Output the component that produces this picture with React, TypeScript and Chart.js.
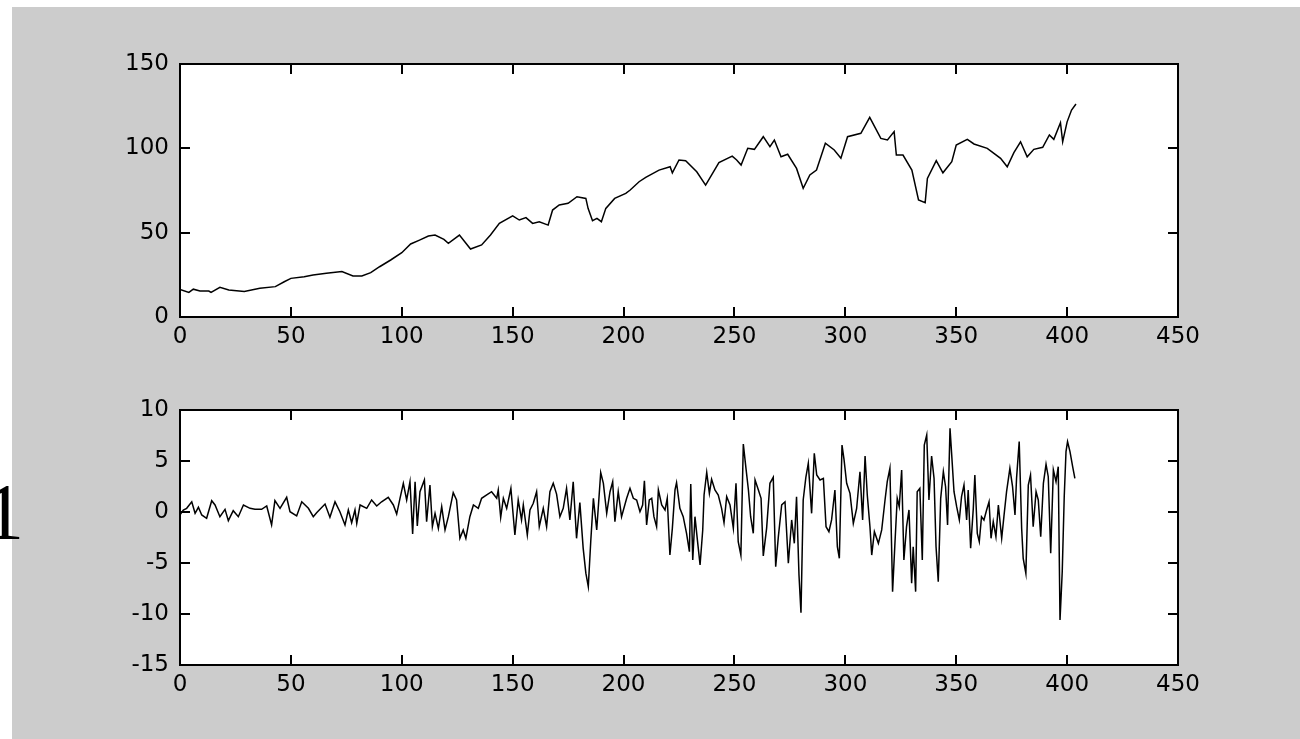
import React, { useEffect, useRef } from "react";
import { Chart, registerables } from "chart.js";

Chart.register(...registerables);

// ---- data ----
const xTicks = [0, 50, 100, 150, 200, 250, 300, 350, 400, 450];
const topYTicks = [0, 50, 100, 150];
const diffYTicks = [-15, -10, -5, 0, 5, 10];
const sideLabel = "1";

// top panel: level series (index, value)
const topIdx = [
  0, 4, 6, 9, 13, 14, 18, 22, 29, 36, 43, 47, 50, 56, 60, 66, 73, 78, 82, 86,
  90, 95, 100, 104, 108, 112, 115, 119, 121, 126, 131, 136, 140, 144, 150, 153, 156, 159, 162, 166,
  168, 171, 175, 179, 183, 184, 186, 188, 190, 192, 196, 201, 203, 207, 210, 216, 221, 222, 225, 228,
  233, 237, 243, 249, 251, 253, 256, 259, 263, 266, 268, 271, 274, 278, 281, 284, 287, 291, 295, 298,
  301, 307, 311, 316, 319, 322, 323, 326, 330, 333, 336, 337, 341, 344, 348, 350, 355, 358, 364, 370,
  373, 376, 379, 382, 385, 389, 392, 394, 397, 398, 400, 402, 404,
];
const topVal = [
  16.4, 14.6, 16.5, 15.4, 15.4, 14.6, 17.6, 16.0, 15.1, 17.1, 18.0, 20.9, 22.9, 23.9, 24.9, 25.9, 26.9, 24.3, 24.3, 26.3,
  29.8, 33.8, 38.1, 43.3, 45.6, 48.0, 48.6, 46.0, 43.7, 48.6, 40.3, 42.7, 48.6, 55.5, 59.9, 57.5, 58.9, 55.5, 56.5, 54.5,
  63.4, 66.4, 67.4, 71.3, 70.3, 64.4, 57.1, 58.5, 56.5, 64.4, 70.3, 73.3, 75.3, 80.2, 82.8, 87.1, 89.1, 85.5, 93.1, 92.7,
  86.1, 78.2, 91.5, 95.4, 93.1, 90.1, 100, 99.4, 106.9, 101, 104.9, 95, 96.5, 88.1, 76.3, 84.2, 87.1, 103, 99, 94.1,
  106.9, 108.9, 118.4, 105.9, 105, 109.9, 96, 96, 87.1, 69.4, 67.8, 82.2, 92.7, 85.5, 92.1, 102, 105.3, 102.6, 100, 94.1,
  89.1, 97.4, 103.9, 95, 99.4, 100.6, 107.9, 105.3, 115.2, 103.9, 115.7, 122.7, 126.3,
];

// bottom panel: differenced series (index, value)
const diffIdx = [
  0, 1.5, 3, 5.3, 6.8, 8.3, 9.8, 12, 14.3, 15.8, 18, 20.3, 21.8, 24, 26.3, 28.6, 31.6, 33.8, 36.8, 39.1,
  41.3, 42.8, 45.1, 48.1, 49.6, 52.6, 54.9, 57.9, 60.1, 61.6, 65.4, 67.6, 69.9, 72.1, 74.4, 75.9, 77.4, 78.9, 79.7, 81.2,
  84.2, 86.4, 88.7, 90.9, 93.9, 96.2, 97.7, 99.2, 100.7, 102.2, 103.7, 104.9, 106, 107, 108.2, 110.2, 111.2, 112.7, 113.8, 115,
  116.5, 118, 119.5, 121, 123.2, 124.7, 126.2, 127.7, 128.9, 130.7, 132.3, 134.5, 136, 138.3, 140.5, 142.8, 143.5, 144.6, 145.8, 147.3,
  149.2, 151, 152.5, 154, 154.8, 156.6, 157.8, 159.3, 160.8, 162, 163.8, 165.3, 166.8, 168.3, 169.8, 171.3, 172.8, 174.3, 175.8, 177.3,
  178.8, 180.3, 181.8, 183, 184.1, 185.2, 186.4, 187.9, 189.7, 190.9, 192.4, 193.9, 195.1, 196.1, 197.6, 199.1, 201.4, 202.9, 204.4, 205.9,
  207.4, 208.6, 209.4, 210.4, 211.6, 212.7, 213.7, 214.9, 215.7, 217.2, 218.7, 219.7, 220.9, 222, 223.2, 223.9, 225.4, 226.9, 228.4, 229.7,
  230.3, 231.2, 232.2, 233.3, 234.5, 235.7, 236.3, 237.5, 238.7, 239.7, 241.2, 242.7, 244.2, 245.3, 246.5, 248, 249.5, 250.7, 251.7, 252.9,
  254, 255.2, 256.3, 257.3, 258.5, 259.3, 260.8, 262, 263, 264.5, 266, 267.5, 268.6, 269.8, 271.3, 272.8, 274.3, 275.8, 277, 278,
  279.1, 280, 281, 282.2, 283.3, 284.8, 286, 287.1, 288.6, 290.1, 291.3, 292.6, 293.8, 295.3, 296.4, 297.3, 298.5, 299.4, 300.6, 302.1,
  303.6, 305.1, 306.6, 307.8, 308.9, 309.9, 311.1, 311.9, 313.1, 314.9, 316.4, 317.9, 318.9, 320.1, 321.3, 322.4, 323.4, 324.3, 325.4, 326.4,
  327.6, 328.7, 329.9, 330.6, 331.7, 332.4, 333.6, 334.7, 335.6, 336.7, 337.7, 338.9, 340, 340.9, 341.9, 343, 344.2, 345.2, 346.1, 347.2,
  347.9, 349, 350.2, 351.4, 352.4, 353.5, 354.7, 355.4, 356.5, 357.7, 358.4, 359.5, 360.4, 361.4, 362.5, 363.7, 364.8, 365.7, 366.7, 367.9,
  369, 370.5, 371.5, 372.7, 374.2, 375.4, 376.5, 377.2, 378.4, 379.5, 380.2, 381.4, 382.5, 383.5, 384.7, 386, 387, 388.1, 389.3, 390.5,
  391.5, 392.6, 393.8, 395, 396, 396.8, 397.8, 398.7, 399.5, 400.2, 401.3, 402.5, 403.5,
];
const diffVal = [
  -0.29, 0.2, 0.36, 1.0, -0.13, 0.46, -0.29, -0.62, 1.11, 0.69, -0.46, 0.26, -0.85, 0.13, -0.46, 0.69, 0.36, 0.26, 0.26, 0.59,
  -1.27, 1.11, 0.36, 1.44, 0.03, -0.39, 1.0, 0.36, -0.46, -0.07, 0.78, -0.52, 1.0, 0.03, -1.27, 0.2, -1.05, 0.2, -1.11, 0.69,
  0.36, 1.18, 0.59, 1.0, 1.44, 0.69, -0.2, 1.34, 2.81, 1.18, 2.97, -2.16, 2.97, -1.37, 1.99, 3.14, -0.95, 2.65, -1.44, -0.13,
  -1.6, 0.52, -1.76, -0.46, 1.9, 1.18, -2.58, -1.76, -2.58, -0.46, 0.69, 0.36, 1.34, 1.67, 1.99, 1.34, 2.16, -0.52, 1.34, 0.36,
  2.32, -2.25, 1.18, -0.78, 0.69, -2.25, 0.2, 0.85, 1.99, -1.44, 0.36, -1.44, 1.99, 2.81, 1.76, -0.46, 0.36, 2.32, -0.78, 2.97,
  -2.58, 0.92, -3.56, -6.0, -7.32, -2.91, 1.34, -1.76, 3.86, 2.81, -0.13, 1.99, 2.97, -0.95, 1.99, -0.46, 1.34, 2.32, 1.34, 1.18,
  0.03, 0.69, 3.07, -1.27, 1.18, 1.34, -0.46, -1.44, 2.16, 0.69, 0.2, 1.34, -4.22, -1.6, 2.16, 2.88, 0.36, -0.46, -2.09, -3.89,
  2.75, -4.71, -0.46, -2.75, -5.2, -1.76, 1.67, 3.89, 1.83, 3.2, 2.16, 1.67, 0.36, -1.05, 1.5, 0.69, -1.6, 2.81, -2.91, -4.22,
  6.67, 4.28, 2.16, -0.46, -2.09, 3.14, 2.16, 1.34, -4.31, -1.6, 2.81, 3.4, -5.36, -2.42, 0.69, 1.0, -5.03, -0.78, -3.07, 1.5,
  -6.18, -9.87, 1.18, 3.4, 4.77, -0.13, 5.75, 3.63, 3.14, 3.3, -1.44, -1.93, -0.78, 2.16, -3.4, -4.54, 6.57, 5.16, 2.81, 1.83,
  -1.11, 0.36, 3.95, -0.78, 5.49, 1.67, -1.44, -4.22, -1.93, -3.07, -1.76, 1.18, 2.97, 4.28, -7.81, -2.91, 1.34, 0.52, 4.12, -4.71,
  -1.44, 0.2, -6.99, -3.4, -7.81, 1.99, 2.32, -4.71, 6.57, 7.55, 1.18, 5.49, 3.3, -3.4, -6.83, 1.34, 3.95, 2.48, -1.27, 8.2,
  5.82, 1.99, 0.52, -0.78, 1.5, 2.65, -0.78, 2.16, -3.56, 0.36, 3.63, -2.09, -2.91, -0.46, -0.78, 0.2, 1.0, -2.58, -0.95, -2.42,
  0.69, -2.58, -0.46, 1.99, 4.28, 2.48, -0.29, 3.3, 6.9, -1.6, -4.54, -6.01, 2.65, 3.63, -1.44, 1.99, 1.18, -2.42, 2.81, 4.67,
  3.46, -4.05, 4.12, 2.97, 4.44, -10.59, -5.85, 1.5, 5.92, 6.9, 5.92, 4.44, 3.3,
];

// ---- drawing helpers ----
const FONT = { family: "'DejaVu Sans', sans-serif", size: 23 };
const TICK_LEN = 10;

const matlabAxes = {
  id: "matlabAxes",
  beforeDraw(chart: any) {
    const { ctx, chartArea: a } = chart;
    ctx.save();
    ctx.fillStyle = "#ffffff";
    ctx.fillRect(a.left, a.top, a.right - a.left, a.bottom - a.top);
    ctx.restore();
  },
  afterDraw(chart: any) {
    const { ctx, chartArea: a, scales } = chart;
    const xs = scales.x;
    const ys = scales.y;
    ctx.save();
    ctx.strokeStyle = "#000000";
    ctx.lineWidth = 2;
    ctx.beginPath();
    for (const t of xs.ticks) {
      const px = Math.round(xs.getPixelForValue(t.value));
      ctx.moveTo(px, a.bottom);
      ctx.lineTo(px, a.bottom - TICK_LEN);
      ctx.moveTo(px, a.top);
      ctx.lineTo(px, a.top + TICK_LEN);
    }
    for (const t of ys.ticks) {
      const py = Math.round(ys.getPixelForValue(t.value));
      ctx.moveTo(a.left, py);
      ctx.lineTo(a.left + TICK_LEN, py);
      ctx.moveTo(a.right, py);
      ctx.lineTo(a.right - TICK_LEN, py);
    }
    ctx.stroke();
    ctx.strokeRect(a.left, a.top, a.right - a.left, a.bottom - a.top);
    ctx.restore();
  },
};

function makeConfig(
  xsArr: number[],
  ysArr: number[],
  yMin: number,
  yMax: number,
  yTicks: number[],
  padTop: number,
  plotH: number,
  canvasH: number
): any {
  return {
    type: "line",
    data: {
      datasets: [
        {
          data: xsArr.map((x, i) => ({ x, y: ysArr[i] })),
          borderColor: "#000000",
          borderWidth: 1.5,
          pointRadius: 0,
          tension: 0,
          fill: false,
        },
      ],
    },
    options: {
      animation: false,
      responsive: false,
      maintainAspectRatio: false,
      events: [],
      layout: { padding: { left: 0, right: 122, top: padTop, bottom: 0 } },
      plugins: { legend: { display: false }, tooltip: { enabled: false } },
      scales: {
        x: {
          type: "linear",
          min: 0,
          max: 450,
          afterBuildTicks: (s: any) => {
            s.ticks = xTicks.map((v) => ({ value: v }));
          },
          grid: { display: false, drawTicks: false },
          border: { display: false },
          ticks: {
            color: "#000000",
            font: FONT,
            padding: 6,
            maxRotation: 0,
            autoSkip: false,
            callback: (v: any) => String(v),
          },
          afterFit: (s: any) => {
            s.height = canvasH - padTop - plotH;
            s.paddingLeft = 0;
            s.paddingRight = 0;
          },
        },
        y: {
          type: "linear",
          min: yMin,
          max: yMax,
          afterBuildTicks: (s: any) => {
            s.ticks = yTicks.map((v) => ({ value: v }));
          },
          grid: { display: false, drawTicks: false },
          border: { display: false },
          ticks: {
            color: "#000000",
            font: FONT,
            padding: 11,
            autoSkip: false,
            callback: (v: any) => String(v),
          },
          afterFit: (s: any) => {
            s.width = 168;
            s.paddingTop = 0;
            s.paddingBottom = 0;
          },
        },
      },
    },
    plugins: [matlabAxes],
  };
}

export default function App() {
  const topRef = useRef<HTMLCanvasElement | null>(null);
  const botRef = useRef<HTMLCanvasElement | null>(null);

  useEffect(() => {
    const c1 = new Chart(
      topRef.current as HTMLCanvasElement,
      makeConfig(topIdx, topVal, 0, 150, topYTicks, 57, 253, 363)
    );
    const c2 = new Chart(
      botRef.current as HTMLCanvasElement,
      makeConfig(diffIdx, diffVal, -15, 10, diffYTicks, 40, 255, 369)
    );
    return () => {
      c1.destroy();
      c2.destroy();
    };
  }, []);

  return (
    <div
      style={{
        position: "absolute",
        left: 0,
        top: 0,
        width: 1300,
        height: 739,
        background: "#ffffff",
        overflow: "hidden",
      }}
    >
      <div
        style={{
          position: "absolute",
          left: 12,
          top: 7,
          width: 1288,
          height: 732,
          background: "#cccccc",
        }}
      />
      <canvas
        ref={topRef}
        width={1288}
        height={363}
        style={{ position: "absolute", left: 12, top: 7, width: 1288, height: 363 }}
      />
      <canvas
        ref={botRef}
        width={1288}
        height={369}
        style={{ position: "absolute", left: 12, top: 370, width: 1288, height: 369 }}
      />
      <div
        style={{
          position: "absolute",
          left: -16,
          top: 472,
          fontFamily: "'Liberation Serif', serif",
          fontSize: 80,
          lineHeight: 1,
          color: "#000000",
        }}
      >
        {sideLabel}
      </div>
    </div>
  );
}
